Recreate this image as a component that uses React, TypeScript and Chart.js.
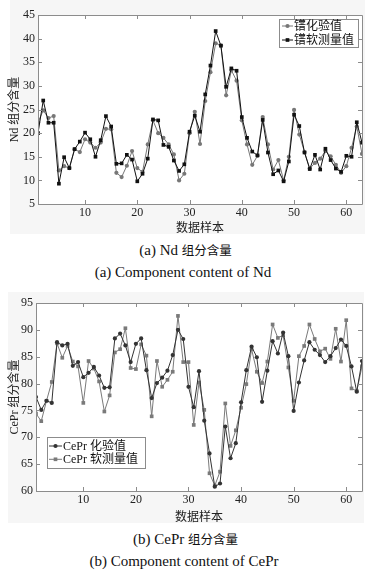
import React, { useEffect, useRef } from 'react';
import { Chart, registerables } from 'chart.js';

Chart.register(...registerables);

const samples = [
  1, 2, 3, 4, 5, 6, 7, 8, 9, 10, 11, 12, 13, 14, 15, 16, 17, 18, 19, 20, 21,
  22, 23, 24, 25, 26, 27, 28, 29, 30, 31, 32, 33, 34, 35, 36, 37, 38, 39, 40,
  41, 42, 43, 44, 45, 46, 47, 48, 49, 50, 51, 52, 53, 54, 55, 56, 57, 58, 59,
  60, 61, 62, 63,
];

// (a) Nd
const ndAssay = [
  22.3, 24.8, 23.2, 23.6, 12.1, 13.0, 12.6, 16.6, 16.0, 18.7, 18.0, 16.9, 18.0,
  20.9, 20.8, 11.6, 10.7, 13.1, 16.2, 12.6, 11.8, 17.6, 22.7, 20.0, 19.0, 17.6,
  15.5, 10.0, 11.4, 20.0, 24.5, 17.7, 26.8, 32.9, 39.0, 38.6, 28.0, 33.3, 31.1,
  22.7, 17.6, 13.3, 15.2, 23.4, 17.6, 12.3, 14.3, 10.0, 15.0, 24.9, 19.7, 16.0,
  12.5, 13.7, 14.6, 16.2, 15.1, 13.3, 11.6, 13.0, 16.9, 21.4, 15.6,
];
const ndSoft = [
  20.0, 26.9, 22.2, 22.2, 9.3, 14.9, 12.6, 16.6, 18.2, 20.1, 18.7, 15.0, 18.5,
  23.6, 21.4, 13.5, 13.6, 15.4, 14.4, 9.8, 11.4, 14.6, 22.9, 22.7, 17.5, 17.1,
  14.2, 12.0, 13.4, 20.3, 23.7, 20.3, 28.2, 34.3, 41.6, 38.5, 29.8, 33.7, 33.2,
  23.4, 19.0, 16.1, 15.3, 22.8, 15.9, 11.3, 12.1, 9.8, 14.0, 23.9, 21.5, 15.9,
  12.4, 15.4, 12.3, 16.7, 14.3, 12.5, 11.8, 15.2, 15.0, 22.3, 18.0,
];

// (b) CePr
const ceprAssay = [
  77.5, 75.1, 76.8, 76.4, 87.7, 87.1, 87.4, 83.3, 84.0, 81.2, 82.0, 83.1, 81.5,
  79.2, 79.3, 88.4, 89.3, 87.1, 84.0, 87.4, 88.4, 82.5, 77.3, 80.1, 81.1, 82.4,
  85.3, 90.0, 88.3, 79.4, 75.6, 82.3, 73.1, 67.0, 60.8, 61.4, 72.0, 66.1, 68.9,
  76.5, 82.5, 86.9, 84.9, 76.6, 82.4, 87.9, 85.6, 89.5, 85.1, 74.9, 80.2, 84.3,
  87.7, 86.3, 85.3, 84.0, 85.1, 86.6, 88.2, 87.0, 83.2, 78.5, 84.2,
];
const ceprSoft = [
  74.4, 73.0, 76.8, 80.3, 87.5, 84.8, 87.0, 84.1, 83.2, 76.4, 84.2, 82.8, 80.4,
  74.8, 77.8, 85.8, 86.4, 90.3, 82.9, 82.7, 87.3, 85.2, 73.9, 84.2, 79.4, 80.7,
  82.2, 92.6, 84.0, 84.0, 72.3, 80.2, 75.1, 63.3, 61.0, 63.6, 76.3, 68.4, 71.3,
  75.5, 79.9, 86.4, 82.2, 80.1, 84.1, 91.0, 88.5, 89.0, 83.0, 76.8, 85.1, 87.0,
  91.0, 88.3, 86.0, 86.5, 84.6, 90.2, 84.1, 91.8, 79.1, 78.6, 83.2,
];

const xTicks = [10, 20, 30, 40, 50, 60];
const ndYTicks = [5, 10, 15, 20, 25, 30, 35, 40, 45];
const ceprYTicks = [60, 65, 70, 75, 80, 85, 90, 95];

const SERIF = '"Liberation Serif", "Noto Sans CJK SC", serif';
const CJK = '"Noto Sans CJK SC", sans-serif';

type Series = {
  label: string;
  values: number[];
  color: string;
  point: 'circle' | 'rect';
  radius: number;
};

type LegendSpec = {
  anchor: 'topright' | 'bottomleft';
  dx: number;
  dy: number;
  width: number;
  height: number;
  rowGap: number;
  firstRow: number;
  lineStart: number;
  lineEnd: number;
  textX: number;
};

const framePlugin = {
  id: 'frameTicks',
  beforeDatasetsDraw(chart: any) {
    const { ctx, chartArea: a } = chart;
    ctx.save();
    ctx.fillStyle = '#ffffff';
    ctx.fillRect(a.left, a.top, a.right - a.left, a.bottom - a.top);
    ctx.restore();
  },
  afterDraw(chart: any) {
    const { ctx, chartArea: a, scales } = chart;
    const L = 4;
    ctx.save();
    ctx.strokeStyle = '#8c8c8c';
    ctx.lineWidth = 1;
    ctx.beginPath();
    ctx.rect(Math.round(a.left) + 0.5, Math.round(a.top) + 0.5, Math.round(a.right - a.left), Math.round(a.bottom - a.top));
    ctx.stroke();
    ctx.beginPath();
    scales.x.ticks.forEach((t: any) => {
      const px = Math.round(scales.x.getPixelForValue(t.value)) + 0.5;
      ctx.moveTo(px, a.bottom);
      ctx.lineTo(px, a.bottom - L);
      ctx.moveTo(px, a.top);
      ctx.lineTo(px, a.top + L);
    });
    scales.y.ticks.forEach((t: any) => {
      const py = Math.round(scales.y.getPixelForValue(t.value)) + 0.5;
      ctx.moveTo(a.left, py);
      ctx.lineTo(a.left + L, py);
      ctx.moveTo(a.right, py);
      ctx.lineTo(a.right - L, py);
    });
    ctx.stroke();

    // legend
    const lg = chart.options.plugins.boxLegend;
    if (lg) {
      const spec: LegendSpec = lg.spec;
      const series: Series[] = lg.series;
      const left = spec.anchor === 'topright' ? a.right - spec.dx - spec.width : a.left + spec.dx;
      const top = spec.anchor === 'topright' ? a.top + spec.dy : a.bottom - spec.dy - spec.height;
      ctx.fillStyle = '#ffffff';
      ctx.fillRect(left, top, spec.width, spec.height);
      ctx.strokeStyle = '#8c8c8c';
      ctx.strokeRect(Math.round(left) + 0.5, Math.round(top) + 0.5, spec.width, spec.height);
      series.forEach((s, i) => {
        const cy = top + spec.firstRow + i * spec.rowGap;
        ctx.strokeStyle = s.color;
        ctx.fillStyle = s.color;
        ctx.lineWidth = 1;
        ctx.beginPath();
        ctx.moveTo(left + spec.lineStart, cy);
        ctx.lineTo(left + spec.lineEnd, cy);
        ctx.stroke();
        const mx = left + (spec.lineStart + spec.lineEnd) / 2;
        ctx.beginPath();
        if (s.point === 'circle') {
          ctx.arc(mx, cy, s.radius, 0, Math.PI * 2);
        } else {
          const h = s.radius * Math.SQRT1_2;
          ctx.rect(mx - h, cy - h, 2 * h, 2 * h);
        }
        ctx.fill();
        ctx.fillStyle = '#111';
        ctx.font = `12px ${SERIF}`;
        ctx.textBaseline = 'middle';
        ctx.textAlign = 'left';
        ctx.fillText(s.label, left + spec.textX, cy + 0.5);
      });
    }
    ctx.restore();
  },
};

type PanelProps = {
  top: number;
  height: number;
  series: Series[];
  legendOrder: number[];
  yMin: number;
  yMax: number;
  yTicks: number[];
  yTitle: string;
  yAxisWidth: number;
  xAxisHeight: number;
  xTitlePad: number;
  padTop: number;
  legend: LegendSpec;
};

function Panel(p: PanelProps) {
  const ref = useRef<HTMLCanvasElement | null>(null);
  useEffect(() => {
    if (!ref.current) return;
    const chart = new Chart(ref.current, {
      type: 'line',
      data: {
        datasets: p.series.map((s) => ({
          label: s.label,
          data: samples.map((x, i) => ({ x, y: s.values[i] })),
          borderColor: s.color,
          backgroundColor: s.color,
          borderWidth: 1,
          pointStyle: s.point,
          pointRadius: s.radius,
          pointBorderWidth: 0,
          tension: 0,
        })),
      },
      options: {
        animation: false,
        responsive: false,
        maintainAspectRatio: false,
        layout: { padding: { top: p.padTop, right: 12, left: 0, bottom: 0 } },
        plugins: {
          legend: { display: false },
          tooltip: { enabled: false },
          boxLegend: { spec: p.legend, series: p.legendOrder.map((k) => p.series[k]) },
        } as any,
        scales: {
          x: {
            type: 'linear',
            min: 1,
            max: 63,
            grid: { display: false, drawTicks: false },
            border: { display: false },
            afterBuildTicks: (scale: any) => {
              scale.ticks = xTicks.map((v) => ({ value: v }));
            },
            afterFit: (scale: any) => {
              scale.height = p.xAxisHeight;
            },
            ticks: {
              padding: 2,
              color: '#222',
              font: { family: SERIF, size: 12 },
              maxRotation: 0,
            },
            title: {
              display: true,
              text: '数据样本',
              color: '#222',
              font: { family: CJK, size: 12 },
              padding: { top: 0, bottom: p.xTitlePad },
            },
          },
          y: {
            type: 'linear',
            min: p.yMin,
            max: p.yMax,
            grid: { display: false, drawTicks: false },
            border: { display: false },
            afterBuildTicks: (scale: any) => {
              scale.ticks = p.yTicks.map((v) => ({ value: v }));
            },
            afterFit: (scale: any) => {
              scale.width = p.yAxisWidth;
            },
            ticks: {
              padding: 3,
              color: '#222',
              font: { family: SERIF, size: 12 },
            },
            title: {
              display: true,
              text: p.yTitle,
              color: '#222',
              font: { family: SERIF, size: 12 },
              padding: { top: 8, bottom: 0 },
            },
          },
        },
      },
      plugins: [framePlugin],
    });
    return () => chart.destroy();
  }, []);
  return (
    <canvas
      ref={ref}
      width={374}
      height={p.height}
      style={{ position: 'absolute', left: 0, top: p.top, width: 374, height: p.height }}
    />
  );
}

function Caption(props: { cx: number; cy: number; children: React.ReactNode }) {
  return (
    <div
      style={{
        position: 'absolute',
        left: props.cx,
        top: props.cy - 10,
        height: 20,
        lineHeight: '20px',
        transform: 'translateX(-50%)',
        whiteSpace: 'nowrap',
        fontFamily: SERIF,
        fontSize: 15,
        color: '#111',
      }}
    >
      {props.children}
    </div>
  );
}

export default function App() {
  return (
    <div
      style={{
        position: 'absolute',
        left: 0,
        top: 0,
        width: 374,
        height: 572,
        background: '#ffffff',
        overflow: 'hidden',
      }}
    >
      <div style={{ position: 'absolute', left: 10, top: 0, width: 355, height: 234, background: '#f6f6f6' }} />
      <div style={{ position: 'absolute', left: 8, top: 292, width: 356, height: 231, background: '#f6f6f6' }} />
      <Panel
        top={0}
        height={240}
        series={[
          { label: '镨软测量值', values: ndSoft, color: '#111111', point: 'rect', radius: 2.6 },
          { label: '镨化验值', values: ndAssay, color: '#777777', point: 'circle', radius: 2.1 },
        ]}
        legendOrder={[1, 0]}
        yMin={5}
        yMax={45}
        yTicks={ndYTicks}
        yTitle="Nd 组分含量"
        yAxisWidth={38}
        xAxisHeight={36}
        xTitlePad={5}
        padTop={15}
        legend={{
          anchor: 'topright',
          dx: 4,
          dy: 4,
          width: 79,
          height: 28,
          rowGap: 14,
          firstRow: 7,
          lineStart: 3,
          lineEnd: 14,
          textX: 15,
        }}
      />
      <Panel
        top={288}
        height={240}
        series={[
          { label: 'CePr 化验值', values: ceprAssay, color: '#333333', point: 'circle', radius: 2.1 },
          { label: 'CePr 软测量值', values: ceprSoft, color: '#7a7a7a', point: 'rect', radius: 2.6 },
        ]}
        legendOrder={[0, 1]}
        yMin={60}
        yMax={95}
        yTicks={ceprYTicks}
        yTitle="CePr 组分含量"
        yAxisWidth={36}
        xAxisHeight={37}
        xTitlePad={4}
        padTop={15}
        legend={{
          anchor: 'bottomleft',
          dx: 11,
          dy: 23,
          width: 98,
          height: 31,
          rowGap: 13.3,
          firstRow: 9,
          lineStart: 2,
          lineEnd: 15,
          textX: 16,
        }}
      />
      <Caption cx={185.5} cy={250}>
        <span>(a) Nd </span>
        <span style={{ fontFamily: CJK, fontSize: 12.5 }}>组分含量</span>
      </Caption>
      <Caption cx={183} cy={272}>(a) Component content of Nd</Caption>
      <Caption cx={185.5} cy={539}>
        <span>(b) CePr </span>
        <span style={{ fontFamily: CJK, fontSize: 12.5 }}>组分含量</span>
      </Caption>
      <Caption cx={184} cy={561}>(b) Component content of CePr</Caption>
    </div>
  );
}
